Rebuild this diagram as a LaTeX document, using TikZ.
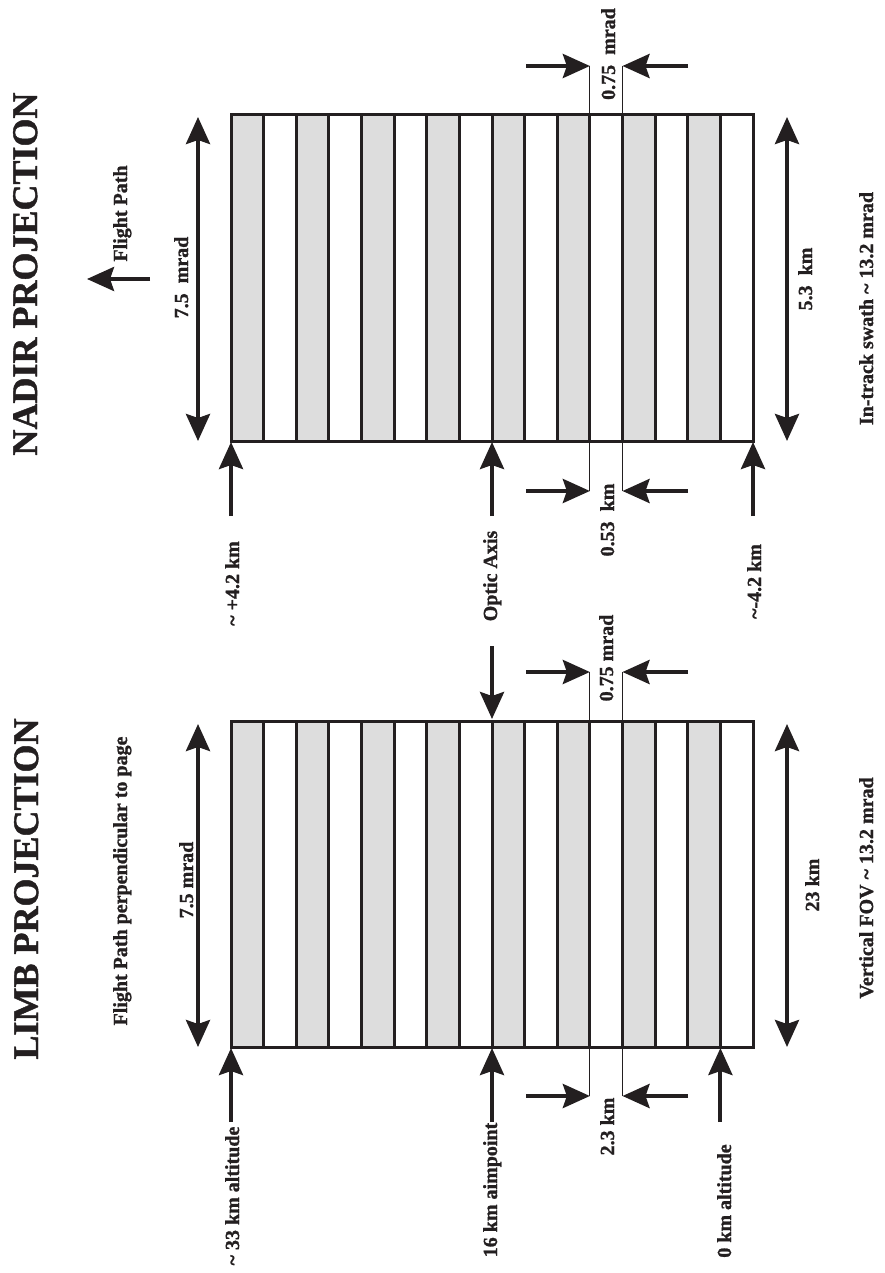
\documentclass[tikz,border=0pt]{standalone}
\usepackage{fontspec}
\setmainfont{Liberation Serif}[BoldFont={Liberation Serif Bold},BoldFeatures={FakeBold=1.2}]
\usetikzlibrary{arrows.meta}
\definecolor{ink}{RGB}{35,31,32}
\definecolor{stripegray}{RGB}{221,221,221}
\begin{document}
\begin{tikzpicture}[x=1pt,y=-1pt,
  lbl/.style={rotate=90,anchor=base,font=\bfseries\fontsize{20}{24}\selectfont,text=ink,inner sep=0pt},
  ttl/.style={rotate=90,anchor=base,font=\bfseries\fontsize{36}{40}\selectfont,text=ink,inner sep=0pt},
  tip/.tip={Stealth[length=27pt,width=24pt,inset=4pt]},
  bigarrow/.style={draw=ink,line width=4pt,-tip},
  dblarrow/.style={draw=ink,line width=4pt,tip-tip},
  dimline/.style={draw=ink,line width=1pt},
  sepline/.style={draw=ink,line width=3pt},
]
\useasboundingbox (0,0) rectangle (885,1273);

% ---------- striped fields ----------
\foreach \ty/\nm in {115/nadir,721/limb}{
  \foreach \i in {0,2,...,14}{
    \fill[stripegray] ({231+\i*32.625},\ty) rectangle ({231+(\i+1)*32.625},\ty+326);
  }
  \foreach \i in {1,...,15}{
    \draw[sepline] ({231+\i*32.625},\ty) -- ({231+\i*32.625},\ty+326);
  }
  \draw[sepline] (231,\ty) rectangle (753,\ty+326);
}
\node[inner sep=0pt,minimum width=522pt,minimum height=326pt] (nadir) at (492,278) {};
\node[inner sep=0pt,minimum width=522pt,minimum height=326pt] (limb) at (492,884) {};

% ---------- titles ----------
\node[ttl] (tN) at (37,274) {NADIR PROJECTION};
\node[ttl] (tL) at (38,889) {LIMB PROJECTION};

% ---------- flight path ----------
\coordinate (fpA) at (150,279);
\coordinate (fpB) at (87,279);
\draw[bigarrow] (fpA) -- (fpB);
\node[lbl] (fp) at (127,213.5) {Flight Path};
\node[lbl] (fpp) at (127,881) {Flight Path perpendicular to page};

% ---------- NADIR dimensions ----------
\coordinate (nL1) at (198,117); \coordinate (nL2) at (198,441);
\draw[dblarrow] (nL1) -- (nL2);
\node[lbl] (n75) at (188,277.5) {7.5\ \ mrad};
\coordinate (nR1) at (787,117); \coordinate (nR2) at (787,441);
\draw[dblarrow] (nR1) -- (nR2);
\node[lbl] (n53) at (812,279) {5.3\ \ km};
\node[lbl] (nsw) at (873,308.5) {In-track swath \textasciitilde{} 13.2 mrad};

% 0.75 mrad (top)
\coordinate (a1) at (589.875,66); \coordinate (a1b) at (589.875,115);
\coordinate (a2) at (622.5,66);   \coordinate (a2b) at (622.5,115);
\coordinate (a1t) at (526,66); \coordinate (a2t) at (688,66);
\draw[dimline] (a1) -- (a1b);
\draw[dimline] (a2) -- (a2b);
\draw[bigarrow] (a1t) -- (a1);
\draw[bigarrow] (a2t) -- (a2);
\node[lbl] (n075) at (615,54) {0.75\ \ mrad};

% 0.53 km
\coordinate (b1) at (589.875,491); \coordinate (b1b) at (589.875,441);
\coordinate (b2) at (622.5,491);   \coordinate (b2b) at (622.5,441);
\coordinate (b1t) at (526,491); \coordinate (b2t) at (688,491);
\draw[dimline] (b1) -- (b1b);
\draw[dimline] (b2) -- (b2b);
\draw[bigarrow] (b1t) -- (b1);
\draw[bigarrow] (b2t) -- (b2);
\node[lbl] (n053) at (614,520) {0.53\ \ km};

% up arrows under nadir
\coordinate (u1a) at (231,516); \coordinate (u1b) at (231,442);
\coordinate (u2a) at (492,516); \coordinate (u2b) at (492,442);
\coordinate (u3a) at (753,516); \coordinate (u3b) at (753,442);
\draw[bigarrow] (u1a) -- (u1b);
\draw[bigarrow] (u2a) -- (u2b);
\draw[bigarrow] (u3a) -- (u3b);
\node[lbl] (p42) at (239,583.5) {\textasciitilde{} +4.2 km};
\node[lbl] (oa) at (497,576) {Optic Axis};
\node[lbl] (m42) at (761,581.5) {\textasciitilde{}-4.2 km};

% ---------- LIMB dimensions ----------
\coordinate (oda) at (492,646); \coordinate (odb) at (492,719);
\draw[bigarrow] (oda) -- (odb);

% 0.75 mrad (bottom)
\coordinate (c1) at (589.875,672); \coordinate (c1b) at (589.875,721);
\coordinate (c2) at (622.5,672);   \coordinate (c2b) at (622.5,721);
\coordinate (c1t) at (526,672); \coordinate (c2t) at (688,672);
\draw[dimline] (c1) -- (c1b);
\draw[dimline] (c2) -- (c2b);
\draw[bigarrow] (c1t) -- (c1);
\draw[bigarrow] (c2t) -- (c2);
\node[lbl] (l075) at (613,658) {0.75 mrad};

\coordinate (lL1) at (198,724); \coordinate (lL2) at (198,1047);
\draw[dblarrow] (lL1) -- (lL2);
\node[lbl] (l75) at (193,880) {7.5 mrad};
\coordinate (lR1) at (787,724); \coordinate (lR2) at (787,1047);
\draw[dblarrow] (lR1) -- (lR2);
\node[lbl] (l23) at (819,885) {23 km};
\node[lbl] (lfov) at (873,888) {Vertical FOV \textasciitilde{} 13.2 mrad};

% 2.3 km
\coordinate (d1) at (589.875,1096); \coordinate (d1b) at (589.875,1047);
\coordinate (d2) at (622.5,1096);   \coordinate (d2b) at (622.5,1047);
\coordinate (d1t) at (526,1096); \coordinate (d2t) at (688,1096);
\draw[dimline] (d1) -- (d1b);
\draw[dimline] (d2) -- (d2b);
\draw[bigarrow] (d1t) -- (d1);
\draw[bigarrow] (d2t) -- (d2);
\node[lbl] (l23km) at (614,1126.5) {2.3 km};

% up arrows under limb
\coordinate (v1a) at (231,1122); \coordinate (v1b) at (231,1048);
\coordinate (v2a) at (492,1122); \coordinate (v2b) at (492,1048);
\coordinate (v3a) at (720.4,1122); \coordinate (v3b) at (720.4,1048);
\draw[bigarrow] (v1a) -- (v1b);
\draw[bigarrow] (v2a) -- (v2b);
\draw[bigarrow] (v3a) -- (v3b);
\node[lbl] (a33) at (239,1196) {\textasciitilde{} 33 km altitude};
\node[lbl] (a16) at (497,1190) {16 km aimpoint};
\node[lbl] (a0) at (731,1201) {0 km altitude};
\end{tikzpicture}
\end{document}
